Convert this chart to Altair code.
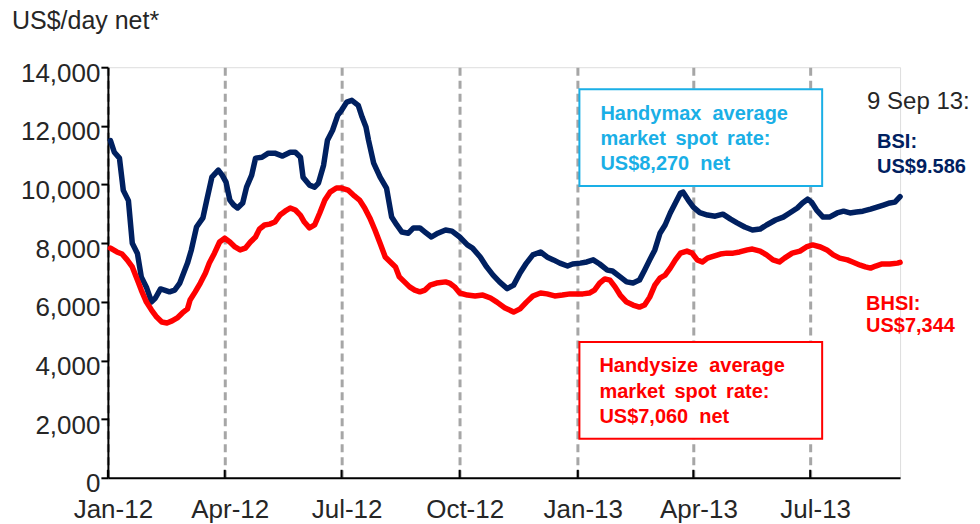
import altair as alt
import pandas as pd

# ---- data ----
bsi_days = [2, 5, 9, 12, 16, 19, 23, 26, 30, 34, 37, 41, 44, 48, 52, 56, 62, 65, 69, 74, 77, 81, 86, 89,
            92, 95, 98, 101, 105, 108, 112, 115, 120, 125, 130, 136, 142, 146, 150, 152, 157, 161, 164,
            168, 171, 175, 179, 182, 186, 190, 195, 198, 201, 203, 207, 212, 217, 221, 225, 229, 234,
            238, 243, 247, 252, 257, 263, 268, 274, 280, 284, 290, 295, 300, 305, 311, 316, 321, 326,
            331, 337, 342, 347, 352, 358, 362, 368, 373, 378, 383, 389, 393, 399, 404, 409, 414, 418,
            422, 426, 430, 434, 438, 442, 446, 448, 452, 456, 461, 467, 473, 479, 485, 490, 496, 502,
            508, 513, 520, 526, 531, 537, 541, 545, 548, 552, 557, 562, 568, 573, 578, 583, 588, 594,
            599, 604, 609, 613, 617]
bsi_values = [11500, 11100, 10900, 9800, 9450, 8000, 7650, 6850, 6500, 6000, 6130, 6440, 6400, 6340, 6400,
              6640, 7320, 7770, 8550, 8860, 9470, 10250, 10490, 10320, 10080, 9470, 9300, 9200, 9370, 9910,
              10320, 10900, 10930, 11070, 11070, 10970, 11100, 11100, 10930, 10250, 9980, 9910, 10050,
              10660, 11510, 11850, 12360, 12530, 12810, 12870, 12700, 12300, 11960, 11510, 10730, 10250,
              9880, 8890, 8620, 8380, 8340, 8520, 8520, 8380, 8210, 8340, 8450, 8410, 8210, 7940, 7830,
              7530, 7190, 6910, 6680, 6450, 6570, 6980, 7320, 7600, 7700, 7530, 7430, 7320, 7220, 7290,
              7320, 7360, 7430, 7290, 7080, 7050, 6850, 6680, 6640, 6740, 7080, 7430, 7770, 8340, 8620,
              9030, 9370, 9710, 9740, 9470, 9230, 9040, 8960, 8920, 8990, 8820, 8690, 8550, 8450, 8480,
              8620, 8790, 8890, 9030, 9200, 9370, 9500, 9400, 9130, 8890, 8890, 9030, 9090, 9030, 9060,
              9090, 9160, 9230, 9300, 9370, 9400, 9586]

bhsi_days = [2, 7, 11, 15, 19, 23, 26, 30, 34, 38, 42, 46, 50, 54, 58, 62, 64, 68, 72, 76, 79, 83, 87, 91,
             95, 99, 103, 107, 111, 115, 118, 122, 126, 130, 134, 138, 142, 146, 150, 153, 157, 161, 165,
             169, 173, 178, 182, 187, 192, 196, 200, 204, 208, 212, 216, 220, 224, 227, 231, 235, 239,
             243, 247, 251, 256, 263, 266, 270, 274, 280, 286, 292, 298, 303, 309, 316, 321, 326, 331,
             337, 342, 348, 354, 360, 365, 370, 375, 379, 383, 387, 391, 395, 399, 404, 409, 414, 418,
             422, 426, 430, 434, 438, 442, 446, 451, 455, 459, 463, 467, 470, 477, 482, 487, 492, 498,
             502, 508, 513, 518, 523, 527, 533, 539, 544, 549, 555, 560, 565, 570, 576, 580, 586, 590,
             594, 598, 603, 609, 615, 617]
bhsi_values = [7830, 7700, 7630, 7430, 7190, 6740, 6400, 5990, 5720, 5480, 5310, 5280, 5350, 5450, 5620,
               5760, 6060, 6340, 6640, 6980, 7320, 7660, 8040, 8170, 8040, 7870, 7770, 7830, 8040, 8210,
               8480, 8620, 8650, 8720, 8960, 9090, 9200, 9130, 8950, 8720, 8520, 8620, 9030, 9470, 9740,
               9880, 9880, 9810, 9610, 9470, 9200, 8860, 8450, 8000, 7530, 7360, 7190, 6850, 6680, 6510,
               6400, 6340, 6400, 6570, 6640, 6680, 6640, 6510, 6300, 6230, 6200, 6230, 6130, 5990, 5800,
               5650, 5760, 5990, 6200, 6300, 6270, 6200, 6230, 6270, 6270, 6270, 6300, 6400, 6640, 6780,
               6740, 6510, 6230, 5990, 5890, 5820, 5890, 6160, 6570, 6810, 6910, 7150, 7430, 7660, 7730,
               7660, 7430, 7360, 7490, 7530, 7630, 7660, 7660, 7700, 7770, 7800, 7730, 7600, 7430, 7360,
               7490, 7660, 7730, 7870, 7940, 7870, 7770, 7600, 7490, 7430, 7360, 7250, 7190, 7150, 7220,
               7290, 7290, 7320, 7344]

quarter_ticks = ["2012-01-01", "2012-04-01", "2012-07-01", "2012-10-01",
                 "2013-01-01", "2013-04-01", "2013-07-01"]
y_ticks = [0, 2000, 4000, 6000, 8000, 10000, 12000, 14000]

NAVY = "#002060"
RED = "#FF0000"
CYAN = "#1AAFE6"
FONT = "Liberation Sans"
SP = "\u00a0 "   # slightly wider word gap, as in the justified reference boxes

start = pd.Timestamp("2012-01-01")


def to_dates(days):
    return [(start + pd.Timedelta(days=d)).strftime("%Y-%m-%d") for d in days]


df = pd.concat([
    pd.DataFrame({"date": to_dates(bsi_days), "value": bsi_values, "series": "BSI"}),
    pd.DataFrame({"date": to_dates(bhsi_days), "value": bhsi_values, "series": "BHSI"}),
])

W, H = 793, 411

x_scale = alt.Scale(type="utc",
                    domain=[alt.DateTime(year=2012, month=1, date=1, utc=True),
                            alt.DateTime(year=2013, month=9, date=9, utc=True)])
y_scale = alt.Scale(domain=[0, 14000])

x_axis = alt.Axis(values=[alt.DateTime(year=int(d[:4]), month=int(d[5:7]), date=1, utc=True)
                          for d in quarter_ticks],
                  labelExpr="utcFormat(datum.value, '%b-%y')",
                  title=None, grid=True, gridColor="#A6A6A6", gridDash=[8, 5], gridWidth=3,
                  domainColor="black", domainWidth=2, tickSize=0,
                  labelFontSize=26, labelColor="#262626", labelFont=FONT,
                  labelPadding=19, labelOffset=5, labelFlush=False, labelOverlap=False,
                  labelBound=False)
y_axis = alt.Axis(values=y_ticks, labelExpr="format(datum.value, ',.0f')", title=None, grid=False,
                  domainColor="black", domainWidth=2, tickColor="black", tickWidth=2,
                  tickSize=7, labelFontSize=26, labelColor="#262626", labelFont=FONT,
                  labelPadding=1, labelOffset=6, labelFlush=False, labelOverlap=False,
                  labelBound=False)

lines = alt.Chart(df).mark_line(strokeWidth=5.5, strokeJoin="round", strokeCap="round").encode(
    x=alt.X("date:T", scale=x_scale, axis=x_axis),
    y=alt.Y("value:Q", scale=y_scale, axis=y_axis),
    color=alt.Color("series:N", scale=alt.Scale(domain=["BSI", "BHSI"], range=[NAVY, RED]),
                    legend=None),
)

ticks_df = pd.DataFrame({"date": quarter_ticks})
inner_ticks = alt.Chart(ticks_df).mark_rule(color="black", strokeWidth=2).encode(
    x=alt.X("date:T", scale=x_scale),
    y=alt.value(H),
    y2=alt.value(H - 8),
)


def box(x1, x2, y1, y2, color):
    return alt.Chart(pd.DataFrame({"a": [0]})).mark_rect(
        fill="white", stroke=color, strokeWidth=2).encode(
        x=alt.value(x1), x2=alt.value(x2), y=alt.value(y1), y2=alt.value(y2))


def label(txt, x, y, color, size, bold=False):
    return alt.Chart(pd.DataFrame({"t": [txt]})).mark_text(
        align="left", baseline="alphabetic", color=color, fontSize=size, font=FONT,
        fontWeight="bold" if bold else "normal").encode(
        text="t:N", x=alt.value(x), y=alt.value(y))


texts = [
    label("US$/day net*", -96, -38, "#262626", 25),
    label("9 Sep 13:", 760, 42, "#262626", 24),
    label("BSI:", 770, 81, NAVY, 20, True),
    label("US$9.586", 770, 106, NAVY, 20, True),
    label("BHSI:", 759, 243, RED, 20, True),
    label("US$7,344", 759, 265, RED, 20, True),
    box(472, 715, 22, 119, CYAN),
    label("Handymax" + SP + "average", 493, 53, CYAN, 20, True),
    label("market\u2009 spot\u2009 rate:", 493, 78, CYAN, 20, True),
    label("US$8,270" + SP + "net", 493, 103, CYAN, 20, True),
    box(472, 715, 275, 372, RED),
    label("Handysize" + SP + "average", 492, 305, RED, 20, True),
    label("market\u2009 spot\u2009 rate:", 492, 331, RED, 20, True),
    label("US$7,060" + SP + "net", 492, 356, RED, 20, True),
]

chart = alt.layer(lines, inner_ticks, *texts).properties(
    width=W, height=H,
    autosize=alt.AutoSizeParams(type="none"),
    padding={"left": 100, "top": 59, "right": 72, "bottom": 46},
).configure_view(stroke=None).configure(background="white")

chart.save("out.html", embed_options={"renderer": "svg", "actions": False})
